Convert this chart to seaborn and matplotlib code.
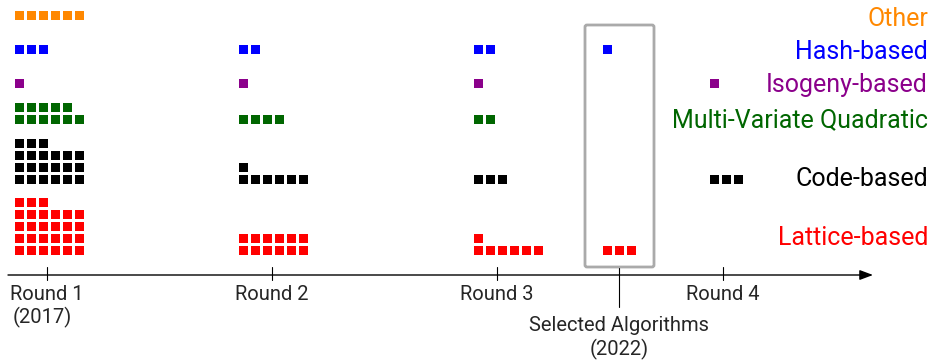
"""
NIST PQC standardisation rounds: one square per submitted scheme,
stacked by family, with the timeline drawn as an arrow underneath.
"""

import matplotlib.pyplot as plt
import numpy as np
import pandas as pd
import seaborn as sns
from matplotlib.patches import FancyBboxPatch

# ---------------------------------------------------------------------------
# Data
# ---------------------------------------------------------------------------

stages = ["Round 1", "Round 2", "Round 3", "Selected", "Round 4"]
categories = [
    "Other",
    "Hash-based",
    "Isogeny-based",
    "Multi-Variate Quadratic",
    "Code-based",
    "Lattice-based",
]

other_counts = [6, 0, 0, 0, 0]
hash_counts = [3, 2, 2, 1, 0]
isogeny_counts = [1, 1, 1, 0, 1]
mvq_counts = [11, 4, 2, 0, 0]
code_counts = [21, 7, 3, 0, 3]
lattice_counts = [27, 12, 7, 3, 0]

stage_labels = ["Round 1\n(2017)", "Round 2", "Round 3",
                "Selected Algorithms\n(2022)", "Round 4"]

colors = ["#ff8800", "#0000ff", "#8b008b", "#006600", "#000000", "#ff0000"]

# ---------------------------------------------------------------------------
# Layout (pixel-like coordinates, y grows downward)
# ---------------------------------------------------------------------------

W, H = 934, 364
col_left = [15, 239, 474, 603, 710]          # left edge of each stage's block
tick_x = [46.7, 271.7, 496.7, 619.3, 723]    # timeline ticks
row_base = [15.5, 49.5, 83.5, 119.5, 179.5, 250.5]   # bottom-row centre per family
label_baseline = [25.5, 59, 92, 127.5, 186, 245]
pitch = 12
per_row = 6
axis_y = 275

all_counts = [other_counts, hash_counts, isogeny_counts,
              mvq_counts, code_counts, lattice_counts]

rows = []
for ci, (cat, counts) in enumerate(zip(categories, all_counts)):
    for si, n in enumerate(counts):
        for k in range(n):
            rows.append({
                "category": cat,
                "stage": stages[si],
                "x": col_left[si] + 4.5 + (k % per_row) * pitch,
                "y": row_base[ci] - (k // per_row) * pitch,
            })
df = pd.DataFrame(rows)

# ---------------------------------------------------------------------------
# Plot
# ---------------------------------------------------------------------------

sns.set_style("white")
plt.rcParams["font.family"] = ["Roboto", "DejaVu Sans"]

fig = plt.figure(figsize=(W / 100, H / 100), dpi=100)
ax = fig.add_axes([0, 0, 1, 1])

sns.scatterplot(
    data=df, x="x", y="y", hue="category", hue_order=categories,
    palette=dict(zip(categories, colors)), marker="s", s=44,
    linewidth=0, legend=False, ax=ax,
)

# family labels on the right
for cat, col, yb in zip(categories, colors, label_baseline):
    ax.text(928, yb, cat, color=col, fontsize=18, ha="right", va="baseline")

# box around the selected algorithms
ax.add_patch(FancyBboxPatch(
    (585, 25), 69, 242, boxstyle="round,pad=0,rounding_size=2",
    fill=False, edgecolor="#aaaaaa", linewidth=2.0, zorder=1,
))

# timeline arrow
ax.annotate(
    "", xy=(873, axis_y), xytext=(8, axis_y),
    arrowprops=dict(arrowstyle="-|>,head_length=0.8,head_width=0.3",
                    color="black", lw=1.0, shrinkA=0, shrinkB=0),
)

for i, (tx, lab) in enumerate(zip(tick_x, stage_labels)):
    if stages[i] == "Selected":
        ax.plot([tx, tx], [268, 307], color="black", lw=0.8)
        ax.text(tx, 331, "Selected Algorithms", fontsize=14.5,
                ha="center", va="baseline")
        ax.text(tx, 355, "(2022)", fontsize=14.5, ha="center", va="baseline")
    else:
        ax.plot([tx, tx], [267, 280], color="black", lw=0.8)
        first, *rest = lab.split("\n")
        ax.text(tx, 300, first, fontsize=14.5, ha="center", va="baseline")
        if rest:
            ax.text(tx - 4, 323, rest[0], fontsize=14.5,
                    ha="center", va="baseline")

ax.set_xlim(0, W)
ax.set_ylim(H, 0)
ax.axis("off")

fig.savefig("out.png", dpi=100)
